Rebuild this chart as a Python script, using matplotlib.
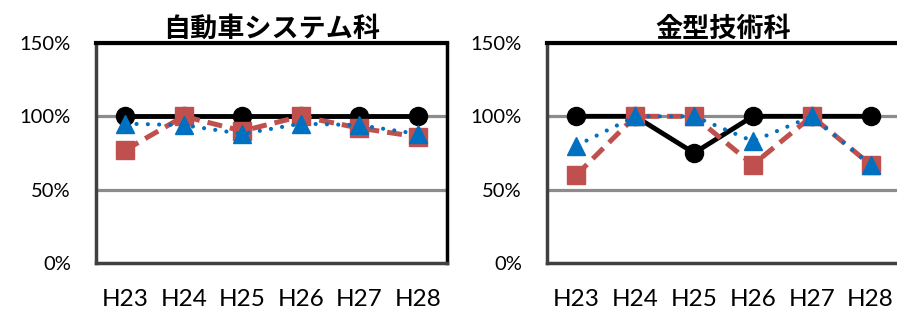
import matplotlib

matplotlib.use("Agg")
import matplotlib.pyplot as plt

years = ["H23", "H24", "H25", "H26", "H27", "H28"]

titles = ["自動車システム科", "金型技術科"]

# black / red / blue series per department (ratio, 1.0 = 100%)
auto_black = [1.00, 1.00, 1.00, 1.00, 1.00, 1.00]
auto_red = [0.77, 1.00, 0.90, 1.00, 0.92, 0.86]
auto_blue = [0.95, 0.94, 0.88, 0.95, 0.94, 0.88]

mold_black = [1.00, 1.00, 0.75, 1.00, 1.00, 1.00]
mold_red = [0.60, 1.00, 1.00, 0.67, 1.00, 0.67]
mold_blue = [0.80, 1.00, 1.00, 0.83, 1.00, 0.67]

y_ticks = [0.0, 0.5, 1.0, 1.5]
y_tick_labels = ["0%", "50%", "100%", "150%"]

BLACK = "#000000"
RED = "#C0504D"
BLUE = "#0070C0"
GRID = "#8C8C8C"


def _draw(ax, title, black, red, blue):
    xs = list(range(len(years)))
    for y in y_ticks[1:]:
        ax.axhline(y, color=GRID, lw=2.3, zorder=1)
    ax.plot(xs, black, color=BLACK, lw=3.5, marker="o", markersize=13, zorder=3)
    ax.plot(xs, red, color=RED, lw=3.6, linestyle=(0, (3.0, 1.6)), marker="s",
            markersize=13, zorder=4)
    ax.plot(xs, blue, color=BLUE, lw=3.0, linestyle=(0, (0.01, 2.7)),
            dash_capstyle="round", marker="^", markersize=13, zorder=5)

    ax.set_xlim(-0.5, len(years) - 0.5)
    ax.set_ylim(0, 1.5)
    ax.set_xticks(xs)
    ax.set_xticklabels(years, fontsize=17.5, family="Lato")
    ax.set_yticks(y_ticks)
    ax.set_yticklabels(y_tick_labels, fontsize=14.5, family="Lato")
    ax.tick_params(axis="both", length=0)
    ax.tick_params(axis="x", pad=19)
    ax.tick_params(axis="y", pad=18)
    ax.set_title(title, fontsize=19.5, fontweight="bold", family="Noto Sans CJK JP", pad=3)

    ax.spines["top"].set_color(BLACK)
    ax.spines["top"].set_linewidth(3)
    ax.spines["right"].set_color(BLACK)
    ax.spines["right"].set_linewidth(2.5)
    ax.spines["left"].set_color("#404040")
    ax.spines["left"].set_linewidth(2.5)
    ax.spines["bottom"].set_color("#404040")
    ax.spines["bottom"].set_linewidth(2.5)


fig = plt.figure(figsize=(8.97, 3.13), dpi=100)
ax1 = fig.add_axes([96 / 897, 1 - 263 / 313, 351 / 897, 220 / 313])
ax2 = fig.add_axes([547 / 897, 1 - 263 / 313, 353 / 897, 220 / 313])

_draw(ax1, titles[0], auto_black, auto_red, auto_blue)
_draw(ax2, titles[1], mold_black, mold_red, mold_blue)

fig.savefig("out.png", dpi=100)
